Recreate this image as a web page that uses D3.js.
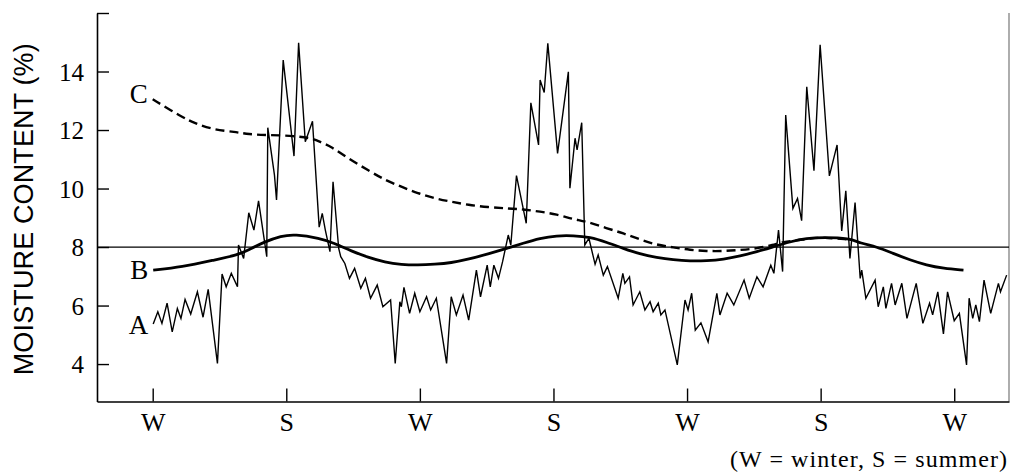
<!DOCTYPE html>
<html>
<head>
<meta charset="utf-8">
<script src="https://cdn.jsdelivr.net/npm/d3@7"></script>
<style>
  html, body { margin: 0; padding: 0; background: #fff; }
  svg { display: block; }
</style>
</head>
<body>
<svg id="chart" width="1011" height="473"></svg>
<script>
// ---- data (x in weeks from first winter, y in % moisture content) ----
const seasonWeeks = [0, 26, 52, 78, 104, 130, 156];
const seasonLabels = ["W", "S", "W", "S", "W", "S", "W"];
const yTickValues = [4, 6, 8, 10, 12, 14, 16];
const yTickLabels = ["4", "6", "8", "10", "12", "14", ""];
const referenceLevel = 8;

const weeksA = [0.1,1.0,1.8,2.8,3.8,4.8,5.5,6.3,7.4,8.7,9.8,10.8,12.6,13.5,14.3,15.3,16.5,16.7,17.7,18.7,19.7,20.6,22.2,22.4,23.7,24.1,25.4,27.5,28.4,29.7,31.1,32.4,33.0,33.6,34.5,35.1,36.2,36.6,37.4,38.3,39.3,40.5,41.4,42.4,43.7,44.8,46.3,47.2,48.1,48.4,48.9,50.0,51.0,52.0,53.3,54.1,55.2,57.2,58.1,59.1,60.4,61.5,63.0,63.8,65.1,65.7,66.4,67.3,68.1,69.2,69.7,70.8,72.7,73.6,75.1,75.4,76.2,76.9,78.8,80.9,81.2,82.2,82.6,83.5,84.1,84.9,86.1,86.7,87.7,88.5,90.6,91.5,91.9,92.8,93.5,94.8,95.8,96.8,97.4,98.4,98.9,99.7,102.1,103.6,104.2,104.9,105.6,106.7,108.1,109.8,110.4,111.8,113.1,115.1,116.1,117.6,118.8,120.3,120.9,121.8,122.6,123.2,124.6,125.5,126.3,127.3,128.7,129.9,131.7,133.2,134.1,134.9,135.7,136.7,137.7,138.0,138.8,140.6,141.2,142.2,142.7,143.8,144.5,145.8,146.8,148.6,149.9,151.2,151.8,152.8,153.9,154.7,156.0,157.0,158.4,158.9,159.6,160.2,160.9,161.8,163.1,164.6,165.0,166.2];
const valuesA = [5.37,5.79,5.39,6.08,5.10,5.90,5.56,6.21,5.71,6.47,5.60,6.55,4.02,7.08,6.64,7.10,6.64,8.07,7.61,9.17,8.58,9.58,7.67,12.08,10.46,9.61,14.39,11.11,14.98,11.60,12.30,8.68,9.15,8.58,7.84,10.23,7.95,7.67,7.44,6.93,7.27,6.59,6.93,6.25,6.70,5.96,6.19,4.02,6.13,5.96,6.62,5.73,6.42,5.79,6.30,5.85,6.25,4.02,6.30,5.68,6.36,5.50,7.21,6.30,7.38,6.64,7.38,6.93,7.50,8.41,8.07,10.44,8.81,12.93,11.49,13.71,13.28,14.96,11.20,13.99,10.01,11.72,11.32,12.25,8.07,8.30,7.41,7.73,7.04,7.33,6.25,7.10,6.76,6.98,6.02,6.47,5.85,6.13,5.79,6.08,5.68,5.85,3.97,6.19,5.85,6.42,5.16,5.41,4.76,6.42,5.68,6.42,6.02,6.87,6.25,6.98,6.64,7.38,7.10,8.58,7.16,12.51,9.32,9.66,8.90,13.48,10.61,14.91,10.43,11.49,8.55,9.92,7.61,9.52,6.93,7.21,6.25,6.87,5.96,6.64,5.90,6.76,6.02,6.76,5.56,6.76,5.39,6.08,5.68,6.47,5.03,6.47,5.48,5.73,3.97,6.25,5.56,6.02,5.45,6.87,5.73,6.76,6.47,7.04];

const weeksB = [0.1,5.6,12.1,16.6,18.6,21.8,25.0,27.6,32.5,35.4,38.7,41.9,45.2,48.4,51.6,54.9,58.1,61.4,65.6,68.9,72.1,75.4,78.6,81.9,85.1,88.4,91.6,94.8,98.1,101.3,104.6,107.8,111.1,114.3,117.6,120.8,124.0,127.3,130.5,135.7,137.7,140.9,144.1,147.4,150.6,153.9,157.8];
const valuesB = [7.21,7.31,7.56,7.73,7.90,8.18,8.38,8.44,8.30,8.13,7.86,7.65,7.48,7.40,7.38,7.41,7.46,7.58,7.78,7.95,8.13,8.30,8.39,8.39,8.34,8.16,7.95,7.76,7.64,7.56,7.52,7.53,7.58,7.69,7.84,8.01,8.18,8.30,8.33,8.30,8.13,8.01,7.78,7.56,7.38,7.27,7.21];

const weeksC = [0.0,5.6,8.2,12.1,16.0,18.6,22.4,27.6,30.9,32.5,34.8,38.0,41.9,45.2,48.4,51.6,54.9,58.1,61.4,65.3,68.9,72.1,75.4,78.6,81.9,84.5,88.4,91.6,94.8,98.1,101.3,104.6,107.8,111.1,114.3,117.6,120.8,122.7,125.3,127.9,130.5,135.4];
const valuesC = [13.05,12.45,12.23,12.00,11.94,11.85,11.83,11.80,11.72,11.60,11.43,11.03,10.63,10.29,10.06,9.84,9.66,9.55,9.44,9.36,9.32,9.29,9.21,9.12,8.95,8.87,8.64,8.47,8.26,8.07,7.99,7.90,7.86,7.86,7.90,7.95,8.07,8.18,8.22,8.30,8.33,8.26];

const seriesNames = ["A", "B", "C"];
const yTitle = "MOISTURE CONTENT (%)";
const footnote = "(W = winter,  S = summer)";

// ---- layout ----
const svg = d3.select("#chart");
const plot = { left: 97, right: 1009, top: 13, bottom: 401.5 };
const serif = "'Liberation Serif', 'DejaVu Serif', serif";
const sans = "'Liberation Sans', Arial, sans-serif";

const x = d3.scaleLinear().domain([-10.84, 166.66]).range([plot.left, plot.right]);
const y = d3.scaleLinear().domain([2.72, 16]).range([plot.bottom, plot.top]);

// right frame line (faint)
svg.append("line")
  .attr("x1", plot.right).attr("x2", plot.right)
  .attr("y1", plot.top).attr("y2", plot.bottom)
  .attr("stroke", "#777").attr("stroke-width", 1.2);

// y axis (ticks inward)
const yAxis = d3.axisLeft(y)
  .tickValues(yTickValues)
  .tickFormat((d, i) => yTickLabels[i])
  .tickSizeInner(-12).tickSizeOuter(0).tickPadding(13);
const gy = svg.append("g").attr("transform", `translate(${plot.left},0)`).call(yAxis);
gy.select(".domain").attr("stroke", "#000").attr("stroke-width", 1.6);
gy.selectAll(".tick line").attr("stroke", "#000").attr("stroke-width", 1.4);
gy.selectAll(".tick text").attr("font-family", serif).attr("font-size", 25).attr("fill", "#000").attr("dy", "0.34em");

// x axis (ticks inward)
const xAxis = d3.axisBottom(x)
  .tickValues(seasonWeeks)
  .tickFormat((d, i) => seasonLabels[i])
  .tickSizeInner(-13).tickSizeOuter(0).tickPadding(29);
const gx = svg.append("g").attr("transform", `translate(0,${plot.bottom})`).call(xAxis);
gx.select(".domain").attr("stroke", "#000").attr("stroke-width", 1.6);
gx.selectAll(".tick line").attr("stroke", "#000").attr("stroke-width", 1.4);
gx.selectAll(".tick text").attr("font-family", serif).attr("font-size", 26).attr("fill", "#000").attr("dy", 0);

// reference line at 8 %
svg.append("line")
  .attr("x1", x.range()[0]).attr("x2", x.range()[1])
  .attr("y1", y(referenceLevel)).attr("y2", y(referenceLevel))
  .attr("stroke", "#000").attr("stroke-width", 1.3);

// series
const lineLinear = d3.line().x(d => x(d[0])).y(d => y(d[1]));
const lineSmooth = d3.line().x(d => x(d[0])).y(d => y(d[1])).curve(d3.curveBasis);

const dataA = d3.zip(weeksA, valuesA);
const dataB = d3.zip(weeksB, valuesB);
const dataC = d3.zip(weeksC, valuesC);

svg.append("path").datum(dataC)
  .attr("d", lineSmooth).attr("fill", "none")
  .attr("stroke", "#000").attr("stroke-width", 2.4).attr("stroke-dasharray", "9,5");

svg.append("path").datum(dataB)
  .attr("d", lineSmooth).attr("fill", "none")
  .attr("stroke", "#000").attr("stroke-width", 2.8);

svg.append("path").datum(dataA)
  .attr("d", lineLinear).attr("fill", "none")
  .attr("stroke", "#000").attr("stroke-width", 1.4).attr("stroke-linejoin", "miter");

// series labels at the start of each line
const starts = [dataA[0], dataB[0], dataC[0]];
const labelOffsets = [10, 9, 4];
svg.selectAll("text.series").data(seriesNames).enter().append("text")
  .attr("class", "series")
  .attr("x", (d, i) => x(starts[i][0]) - 5)
  .attr("y", (d, i) => y(starts[i][1]) + labelOffsets[i])
  .attr("text-anchor", "end")
  .attr("font-family", serif).attr("font-size", 27).attr("fill", "#000")
  .text(d => d);

// y axis title
svg.append("text")
  .attr("transform", `translate(33,${(plot.top + plot.bottom) / 2 + 2}) rotate(-90)`)
  .attr("text-anchor", "middle")
  .attr("font-family", sans).attr("font-size", 27).attr("fill", "#000")
  .attr("textLength", 332).attr("lengthAdjust", "spacing")
  .text(yTitle);

// footnote
svg.append("text")
  .attr("x", 1007).attr("y", 467)
  .attr("text-anchor", "end")
  .attr("font-family", serif).attr("font-size", 24).attr("fill", "#000")
  .attr("textLength", 277).attr("lengthAdjust", "spacing")
  .text(footnote);
</script>
</body>
</html>
